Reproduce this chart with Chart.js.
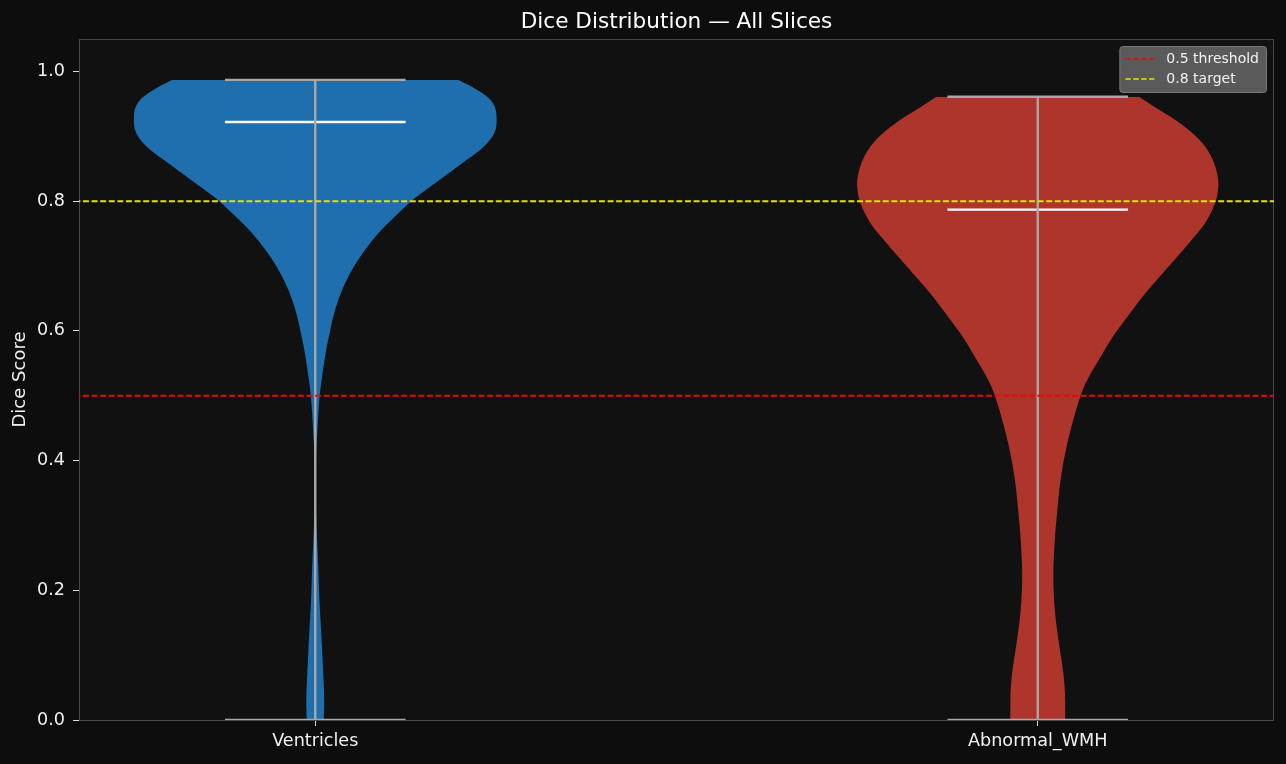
<!DOCTYPE html>
<html>
<head>
<meta charset="utf-8">
<script src="https://cdn.jsdelivr.net/npm/chart.js@4.4.1/dist/chart.umd.min.js"></script>
<style>
  html, body { margin: 0; padding: 0; background: #0d0d0d; }
  canvas { display: block; }
</style>
</head>
<body>
<canvas id="diceChart" width="1286" height="764"></canvas>
<script>
const categories = ['Ventricles', 'Abnormal_WMH'];
const yTicks = [0.0, 0.2, 0.4, 0.6, 0.8, 1.0];

// violin outlines: dice value -> half width (category units)
const ventriclesY = [0.0, 0.031, 0.082, 0.134, 0.185, 0.237, 0.288, 0.34, 0.391, 0.443, 0.499, 0.520, 0.545, 0.571, 0.597, 0.622, 0.648, 0.674, 0.700, 0.725, 0.751, 0.777, 0.801, 0.8205, 0.841, 0.862, 0.877, 0.892, 0.908, 0.926, 0.944, 0.959, 0.975, 0.987];
const ventriclesW = [0.0118, 0.0124, 0.0106, 0.0083, 0.0058, 0.0042, 0.0022, 0.0008, 0.0008, 0.0028, 0.006, 0.0083, 0.0115, 0.0152, 0.020, 0.025, 0.032, 0.0415, 0.054, 0.069, 0.0876, 0.111, 0.134, 0.157, 0.182, 0.2075, 0.226, 0.240, 0.249, 0.251, 0.249, 0.240, 0.219, 0.198];
const wmhY = [0.0, 0.036, 0.062, 0.0875, 0.113, 0.165, 0.216, 0.267, 0.319, 0.370, 0.422, 0.478, 0.509, 0.535, 0.561, 0.586, 0.612, 0.638, 0.664, 0.689, 0.715, 0.741, 0.766, 0.797, 0.823, 0.844, 0.869, 0.895, 0.921, 0.941, 0.961];
const wmhW = [0.038, 0.0378, 0.0364, 0.0336, 0.030, 0.024, 0.0216, 0.023, 0.0267, 0.0316, 0.040, 0.053, 0.0622, 0.0737, 0.0876, 0.101, 0.1176, 0.135, 0.1535, 0.173, 0.1936, 0.2135, 0.2315, 0.2455, 0.250, 0.248, 0.240, 0.2235, 0.196, 0.168, 0.140];

const mins = [0.0, 0.0];
const maxes = [0.987, 0.961];
const medians = [0.922, 0.787];

const thresholdValues = [0.5, 0.8];
const thresholdLabels = ['0.5 threshold', '0.8 target'];
const thresholdColors = ['#e60b0b', '#e2e200'];

const bodyColors = ['#1f6fae', '#ae352c'];
const capHalf = 0.125;
const FONT = "'DejaVu Sans', sans-serif";

const outlines = [[ventriclesY, ventriclesW], [wmhY, wmhW]];
const datasets = [];

// violin bodies: left edge filled to right edge
outlines.forEach(([ys, ws], i) => {
  datasets.push({
    data: ys.map((y, k) => ({x: i - ws[k], y: y})),
    fill: '+1',
    backgroundColor: bodyColors[i],
    borderColor: 'rgba(0,0,0,0)',
    borderWidth: 1,
    tension: 0.35,
    order: 3
  });
  datasets.push({
    data: ys.map((y, k) => ({x: i + ws[k], y: y})),
    fill: false,
    borderColor: 'rgba(0,0,0,0)',
    borderWidth: 1,
    tension: 0.35,
    order: 3
  });
});

// extrema bars and medians
categories.forEach((c, i) => {
  const seg = (x0, x1, y0, y1, color) => ({
    data: [{x: x0, y: y0}, {x: x1, y: y1}],
    borderColor: color,
    borderWidth: 2.4,
    fill: false,
    order: 2
  });
  datasets.push(seg(i, i, mins[i], maxes[i], '#a8a8a8'));
  datasets.push(seg(i - capHalf, i + capHalf, maxes[i], maxes[i], '#a8a8a8'));
  datasets.push(seg(i - capHalf, i + capHalf, mins[i], mins[i], '#a8a8a8'));
  datasets.push(seg(i - capHalf, i + capHalf, medians[i], medians[i], '#ffffff'));
});

// reference lines
thresholdValues.forEach((v, i) => {
  datasets.push({
    label: thresholdLabels[i],
    data: [{x: -1, y: v}, {x: categories.length, y: v}],
    borderColor: thresholdColors[i],
    borderWidth: 2,
    borderDash: [6, 2.6],
    fill: false,
    order: 1
  });
});

const framePlugin = {
  id: 'framePlugin',
  beforeDraw(chart) {
    const {ctx, chartArea: a} = chart;
    ctx.save();
    ctx.fillStyle = '#0d0d0d';
    ctx.fillRect(0, 0, chart.width, chart.height);
    ctx.fillStyle = '#111111';
    ctx.fillRect(a.left, a.top, a.right - a.left, a.bottom - a.top);
    ctx.restore();
  },
  beforeDatasetsDraw(chart) {
    const {ctx, chartArea: a} = chart;
    ctx.save();
    ctx.strokeStyle = '#484848';
    ctx.lineWidth = 1;
    ctx.strokeRect(a.left + 0.5, a.top + 0.5, a.right - a.left - 1, a.bottom - a.top);
    ctx.restore();
  },
  afterDraw(chart) {
    // legend box in the upper right of the plot
    const {ctx, chartArea: a} = chart;
    const items = chart.data.datasets.filter(d => d.label);
    ctx.save();
    ctx.font = '14px ' + FONT;
    const textW = Math.max(...items.map(d => ctx.measureText(d.label).width));
    const w = 47 + textW + 7;
    const h = 46;
    const x = a.right - 8 - w;
    const y = a.top + 7;
    ctx.beginPath();
    ctx.roundRect(x + 0.5, y + 0.5, w, h, 3);
    ctx.fillStyle = '#5a5a5a';
    ctx.fill();
    ctx.strokeStyle = '#787878';
    ctx.lineWidth = 1;
    ctx.stroke();
    items.forEach((d, i) => {
      const cy = y + 13 + i * 20;
      ctx.beginPath();
      ctx.setLineDash([5.5, 2.4]);
      ctx.strokeStyle = d.borderColor;
      ctx.lineWidth = 1.6;
      ctx.moveTo(x + 6, cy);
      ctx.lineTo(x + 35, cy);
      ctx.stroke();
      ctx.setLineDash([]);
      ctx.fillStyle = '#f2f2f2';
      ctx.textBaseline = 'middle';
      ctx.fillText(d.label, x + 47, cy);
    });
    ctx.restore();
  }
};

new Chart(document.getElementById('diceChart'), {
  type: 'line',
  data: {datasets: datasets},
  plugins: [framePlugin],
  options: {
    responsive: false,
    devicePixelRatio: 1,
    animation: false,
    indexAxis: 'y',
    layout: {padding: {left: 0, right: 12, top: 0, bottom: 0}},
    elements: {point: {radius: 0, hoverRadius: 0}},
    plugins: {
      legend: {display: false},
      tooltip: {enabled: false},
      title: {
        display: true,
        text: 'Dice Distribution — All Slices',
        color: '#ffffff',
        fullSize: false,
        font: {family: FONT, size: 21.6, weight: 'normal'},
        padding: {top: 9, bottom: 4.1}
      }
    },
    scales: {
      x: {
        type: 'linear',
        position: 'bottom',
        min: -0.327,
        max: 1.327,
        afterBuildTicks: (scale) => { scale.ticks = categories.map((c, i) => ({value: i})); },
        afterFit: (scale) => { scale.height = 44; },
        ticks: {
          color: '#f0f0f0',
          font: {family: FONT, size: 17.6},
          padding: 5,
          maxRotation: 0,
          autoSkip: false,
          callback: (v) => categories[v]
        },
        grid: {display: true, drawOnChartArea: false, drawTicks: true, tickLength: 6, tickColor: '#dddddd'},
        border: {display: false}
      },
      y: {
        type: 'linear',
        position: 'left',
        min: 0,
        max: 1.05,
        afterBuildTicks: (scale) => { scale.ticks = yTicks.map(v => ({value: v})); },
        afterFit: (scale) => { scale.width = 79; },
        ticks: {
          color: '#f0f0f0',
          font: {family: FONT, size: 17.6},
          padding: 8,
          callback: (v) => v.toFixed(1)
        },
        grid: {display: true, drawOnChartArea: false, drawTicks: true, tickLength: 6, tickColor: '#dddddd'},
        border: {display: false},
        title: {
          display: true,
          text: 'Dice Score',
          color: '#f0f0f0',
          font: {family: FONT, size: 18},
          padding: {top: 9.5, bottom: 0}
        }
      }
    }
  }
});
</script>
</body>
</html>
